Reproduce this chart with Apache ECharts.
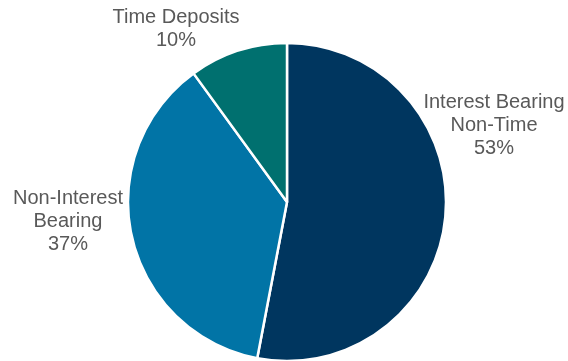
<!DOCTYPE html>
<html>
<head>
<meta charset="utf-8">
<script src="https://cdn.jsdelivr.net/npm/echarts@6/dist/echarts.min.js"></script>
<style>
  html, body { margin: 0; padding: 0; background: #fff; }
  #chart { width: 568px; height: 361px; }
</style>
</head>
<body>
<div id="chart"></div>
<script>
const categories = ['Interest Bearing\nNon-Time', 'Non-Interest\nBearing', 'Time Deposits']
const values = [53, 37, 10]
const colors = ['#00365f', '#0174a6', '#00706f']
// label anchor spots (text centre), Excel-style placement
const labelSpots = [[494, 125], [68, 221], [176, 29]]

const chart = echarts.init(document.getElementById('chart'))
chart.setOption({
  animation: false,
  series: [{
    type: 'pie',
    center: [287, 202],
    radius: [0, 159],
    startAngle: 90,
    clockwise: true,
    data: categories.map((name, i) => ({ name: name, value: values[i], itemStyle: { color: colors[i] } })),
    itemStyle: { borderColor: '#fff', borderWidth: 2.5 },
    label: {
      show: true,
      position: 'outside',
      formatter: '{b}\n{c}%',
      color: '#595959',
      fontFamily: '"Liberation Sans", Arial, sans-serif',
      fontSize: 20,
      lineHeight: 23,
      align: 'center',
      overflow: 'none'
    },
    labelLine: { show: false },
    labelLayout: function (params) {
      const p = labelSpots[params.dataIndex]
      return { x: p[0], y: p[1], align: 'center', verticalAlign: 'middle' }
    }
  }]
})
</script>
</body>
</html>
